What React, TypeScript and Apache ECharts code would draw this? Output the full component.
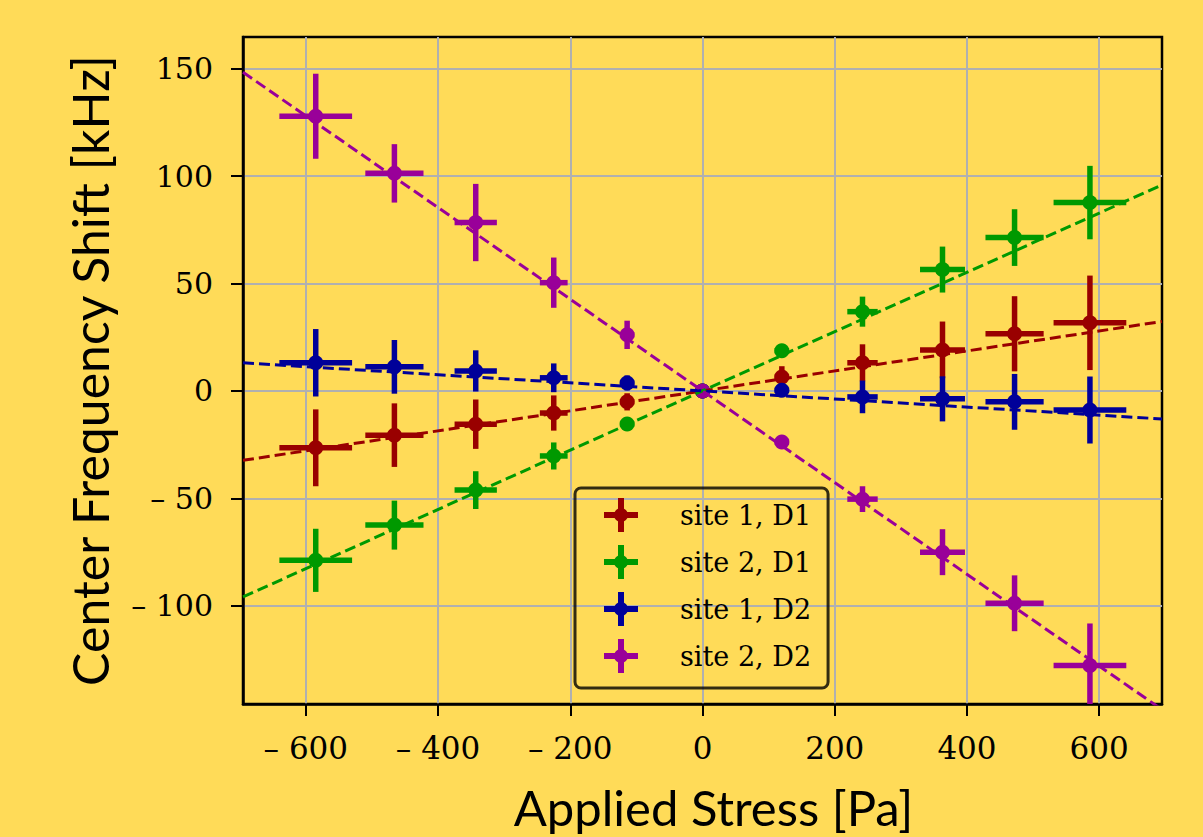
import React, { useEffect, useRef } from 'react';
import * as echarts from 'echarts';

// ---- data ----
const X_VALUES = [-585, -466, -343, -225, -114, 0, 120, 242, 363, 472, 586];
const X_ERR = [55, 44, 32, 21, 11, 0, 11, 23, 34, 44, 55];

const SERIES_NAMES = ['site 1, D1', 'site 2, D1', 'site 1, D2', 'site 2, D2'];
const SERIES_COLORS = ['#990000', '#009900', '#000099', '#990099'];

const S1D1_Y = [-26.5, -20.6, -15.5, -10.3, -5.1, 0, 6.5, 13.1, 19.1, 26.6, 31.7];
const S1D1_ERR = [17.9, 14.8, 11.5, 8.2, 4, 0, 5, 8.6, 13.2, 17.5, 22.0];

const S2D1_Y = [-78.9, -62.5, -46.2, -30.3, -15.4, 0, 18.7, 36.9, 56.5, 71.4, 87.7];
const S2D1_ERR = [14.7, 11.4, 8.8, 6.3, 3, 0, 3, 7, 10.7, 13.2, 17.1];

const S1D2_Y = [13.1, 11.2, 9.3, 6.1, 3.7, 0, 0.3, -2.8, -3.7, -5.1, -8.9];
const S1D2_ERR = [15.7, 12.5, 9.6, 6.7, 3.5, 0, 3, 7.6, 10.5, 13, 15.6];

const S2D2_Y = [127.9, 101.3, 78.4, 50.4, 26.1, 0, -23.8, -50.4, -75.1, -98.9, -127.9];
const S2D2_ERR = [19.8, 13.6, 18, 11.7, 6.6, 0, 3, 6, 10.7, 13, 19.6];

// fitted slopes (kHz / Pa), lines through origin
const FIT_SLOPES = [0.0465, 0.138, -0.0188, -0.2135];

const X_TICKS = [-600, -400, -200, 0, 200, 400, 600];
const Y_TICKS = [-100, -50, 0, 50, 100, 150];
const X_MIN = -695;
const X_MAX = 695;
const Y_MIN = -145.8;
const Y_MAX = 164.8;

const X_TITLE = 'Applied Stress [Pa]';
const Y_TITLE = 'Center Frequency Shift [kHz]';

const ALL_Y = [S1D1_Y, S2D1_Y, S1D2_Y, S2D2_Y];
const ALL_ERR = [S1D1_ERR, S2D1_ERR, S1D2_ERR, S2D2_ERR];

const BG = '#FFDB58';
const LEGEND_ICON =
  'path://M0,14H34V20H0Z M14,0H20V34H14Z M10,17A7,7 0 1,1 24,17A7,7 0 1,1 10,17Z';

const fmt = (v: number) => (v < 0 ? '\u2013 ' + Math.abs(v) : String(v));

function buildOption() {
  const series: any[] = [];
  SERIES_NAMES.forEach((name, i) => {
    const color = SERIES_COLORS[i];
    const data = X_VALUES.map((x, j) => [x, ALL_Y[i][j], X_ERR[j], ALL_ERR[i][j]]);
    series.push({
      type: 'custom',
      name,
      clip: true,
      itemStyle: { color },
      encode: { x: 0, y: 1 },
      data,
      renderItem: (params: any, api: any) => {
        const x = api.value(0);
        const y = api.value(1);
        const xe = api.value(2);
        const ye = api.value(3);
        const c = api.coord([x, y]);
        const l = api.coord([x - xe, y]);
        const r = api.coord([x + xe, y]);
        const t = api.coord([x, y + ye]);
        const b = api.coord([x, y - ye]);
        return {
          type: 'group',
          children: [
            {
              type: 'line',
              shape: { x1: l[0], y1: l[1], x2: r[0], y2: r[1] },
              style: { stroke: color, lineWidth: 5.5, lineCap: 'butt' },
            },
            {
              type: 'line',
              shape: { x1: b[0], y1: b[1], x2: t[0], y2: t[1] },
              style: { stroke: color, lineWidth: 5.5, lineCap: 'butt' },
            },
            {
              type: 'circle',
              shape: { cx: c[0], cy: c[1], r: 7.5 },
              style: { fill: color },
            },
          ],
        };
      },
    });
    const s = FIT_SLOPES[i];
    series.push({
      type: 'line',
      name: name + ' fit',
      showSymbol: false,
      symbol: 'none',
      clip: true,
      silent: true,
      lineStyle: { color, width: 3, type: [11, 5] },
      data: [
        [X_MIN, s * X_MIN],
        [X_MAX, s * X_MAX],
      ],
    });
  });

  return {
    animation: false,
    backgroundColor: BG,
    grid: {
      left: 243,
      top: 37,
      right: 41,
      bottom: 133,
      show: true,
      borderColor: '#000',
      borderWidth: 2.5,
      backgroundColor: 'transparent',
      outerBoundsMode: 'none',
    },
    legend: {
      data: SERIES_NAMES.map((n) => ({ name: n, icon: LEGEND_ICON })),
      orient: 'vertical',
      left: 575,
      top: 488,
      itemWidth: 34,
      itemHeight: 34,
      itemGap: 13,
      padding: [10, 17, 15, 29],
      borderColor: 'rgba(0,0,0,0.8)',
      borderWidth: 3,
      borderRadius: 6,
      backgroundColor: 'transparent',
      textStyle: {
        fontFamily: 'DejaVu Serif',
        fontSize: 27,
        color: '#000',
        padding: [0, 0, 0, 37],
      },
    },
    xAxis: {
      type: 'value',
      min: X_MIN,
      max: X_MAX,
      name: X_TITLE,
      nameLocation: 'middle',
      nameGap: 78,
      nameTextStyle: {
        fontFamily: 'Lato',
        fontSize: 49,
        color: '#000',
        padding: [0, 0, 0, 22],
      },
      axisLine: { show: true, onZero: false, lineStyle: { color: '#000', width: 2.5 } },
      axisTick: {
        show: true,
        inside: false,
        length: 12,
        customValues: X_TICKS,
        lineStyle: { color: '#000', width: 2 },
      },
      axisLabel: {
        customValues: X_TICKS,
        formatter: fmt,
        margin: 28,
        fontFamily: 'DejaVu Serif',
        fontSize: 31,
        color: '#000',
      },
      splitLine: { show: true, lineStyle: { color: '#b0b0b0', width: 2 } },
    },
    yAxis: {
      type: 'value',
      min: Y_MIN,
      max: Y_MAX,
      name: Y_TITLE,
      nameLocation: 'middle',
      nameGap: 128,
      nameRotate: 90,
      nameTextStyle: { fontFamily: 'Lato', fontSize: 50, color: '#000' },
      axisLine: { show: true, onZero: false, lineStyle: { color: '#000', width: 2.5 } },
      axisTick: {
        show: true,
        inside: false,
        length: 12,
        customValues: Y_TICKS,
        lineStyle: { color: '#000', width: 2 },
      },
      axisLabel: {
        customValues: Y_TICKS,
        formatter: fmt,
        margin: 30,
        fontFamily: 'DejaVu Serif',
        fontSize: 30,
        color: '#000',
      },
      splitLine: { show: true, lineStyle: { color: '#b0b0b0', width: 2 } },
    },
    series,
  };
}

export default function App() {
  const ref = useRef<HTMLDivElement>(null);
  useEffect(() => {
    if (!ref.current) return;
    const chart = echarts.init(ref.current, undefined, { renderer: 'svg' });
    chart.setOption(buildOption() as any);
    return () => chart.dispose();
  }, []);
  return (
    <div
      ref={ref}
      style={{ position: 'absolute', left: 0, top: 0, width: 1203, height: 837 }}
    />
  );
}
